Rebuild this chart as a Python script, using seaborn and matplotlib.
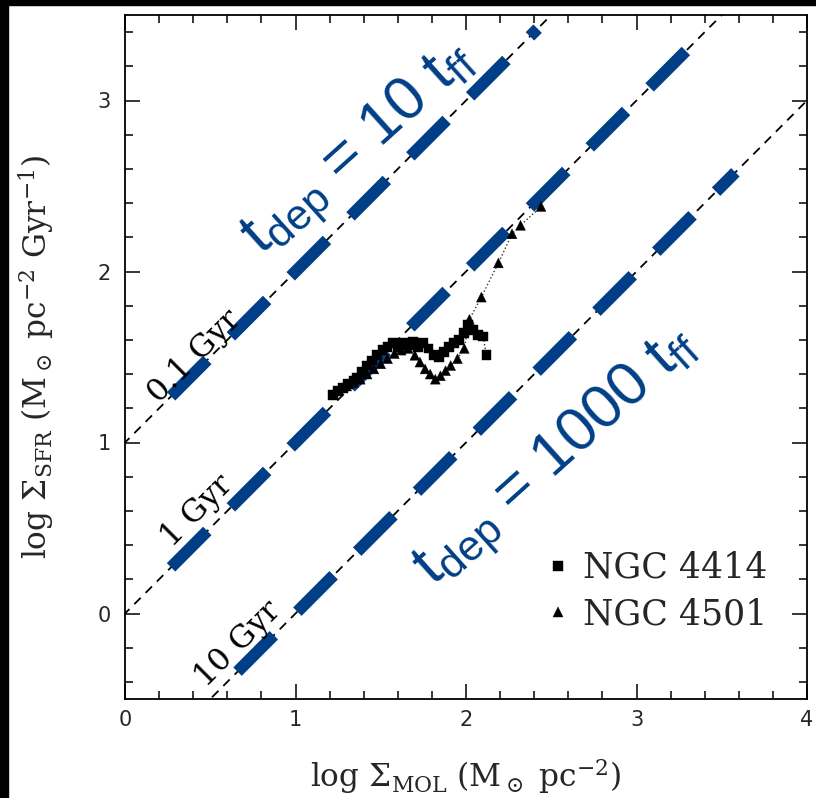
import numpy as np
import pandas as pd
import matplotlib
matplotlib.use('Agg')
import matplotlib.pyplot as plt
import seaborn as sns
from matplotlib.patches import Rectangle
from matplotlib.ticker import MultipleLocator

sns.set_theme(style='ticks')
plt.rcParams['font.family'] = ['DejaVu Sans']
plt.rcParams['mathtext.fontset'] = 'custom'
plt.rcParams['mathtext.rm'] = 'Liberation Sans'
plt.rcParams['mathtext.it'] = 'Liberation Sans'
plt.rcParams['mathtext.sf'] = 'Liberation Sans'
plt.rcParams['lines.scale_dashes'] = False

# ---------------- data ----------------
x_4414 = [1.22, 1.25, 1.28, 1.31, 1.34, 1.36, 1.39, 1.42, 1.45, 1.48, 1.51, 1.54, 1.57,
          1.60, 1.63, 1.66, 1.69, 1.72, 1.75, 1.78, 1.81, 1.84, 1.87, 1.90, 1.93, 1.96,
          1.99, 2.01, 2.04, 2.07, 2.10, 2.12]
y_4414 = [1.28, 1.30, 1.32, 1.34, 1.36, 1.38, 1.41, 1.45, 1.48, 1.51, 1.54, 1.56, 1.58,
          1.56, 1.58, 1.57, 1.59, 1.56, 1.58, 1.55, 1.51, 1.50, 1.53, 1.56, 1.58, 1.60,
          1.64, 1.69, 1.66, 1.63, 1.62, 1.51]
x_4501 = [1.30, 1.34, 1.38, 1.42, 1.46, 1.50, 1.54, 1.58, 1.62, 1.66, 1.70, 1.73, 1.76,
          1.79, 1.82, 1.85, 1.88, 1.91, 1.95, 1.99, 2.02, 2.09, 2.19, 2.27, 2.32, 2.44]
y_4501 = [1.33, 1.35, 1.37, 1.40, 1.43, 1.46, 1.49, 1.52, 1.54, 1.55, 1.51, 1.47, 1.43,
          1.40, 1.37, 1.39, 1.42, 1.45, 1.49, 1.55, 1.72, 1.85, 2.05, 2.22, 2.27, 2.38]
galaxies = ['NGC 4414', 'NGC 4501']

t_dep_gyr = [0.1, 1.0, 10.0]
t_dep_labels = ['0.1 Gyr', '1 Gyr', '10 Gyr']
label_x = [0.405, 0.42, 0.66]
label_y = [1.50, 0.60, -0.18]

blue_x_start = [0.27, 0.27, 0.66]
blue_x_end = [2.42, 3.32, 3.58]
blue_texts = [r't$_{\mathrm{dep}}$ = 10 t$_{\mathrm{ff}}$', r't$_{\mathrm{dep}}$ = 1000 t$_{\mathrm{ff}}$']
blue_text_x = [1.38, 2.54]
blue_text_y = [2.71, 0.91]

xticks = [0, 1, 2, 3, 4]
yticks = [0, 1, 2, 3]

BLUE = '#003F87'
SERIF = 'DejaVu Serif'

df = pd.concat([
    pd.DataFrame({'x': x_4414, 'y': y_4414, 'galaxy': galaxies[0]}),
    pd.DataFrame({'x': x_4501, 'y': y_4501, 'galaxy': galaxies[1]}),
], ignore_index=True)

fig = plt.figure(figsize=(8.16, 7.98), dpi=100)
ax = fig.add_axes([125/816, 1 - 699/798, (807-125)/816, (699-15)/798])

# thin black dashed depletion-time lines
xx = np.array([-1.0, 5.0])
for t in t_dep_gyr:
    ax.plot(xx, xx - np.log10(t), color='black', lw=1.3, dashes=(6.5, 5), zorder=2)

# thick blue dashed overlays
for t, xs, xe in zip(t_dep_gyr, blue_x_start, blue_x_end):
    bx = np.array([xs, xe])
    ax.plot(bx, bx - np.log10(t), color=BLUE, lw=8.6, dashes=(37, 24),
            solid_capstyle='butt', dash_capstyle='butt', zorder=3)

# data
for g, d in df.groupby('galaxy'):
    sns.lineplot(data=d, x='x', y='y', sort=False, ax=ax, color='#333333',
                 lw=1.0, linestyle=':', legend=False, zorder=4)
sns.scatterplot(data=df, x='x', y='y', style='galaxy', markers={galaxies[0]: 's', galaxies[1]: '^'},
                color='black', s=50, edgecolor='black', linewidth=0.3, ax=ax, zorder=5)

# line labels
for lab, lx, ly in zip(t_dep_labels, label_x, label_y):
    ax.text(lx, ly, lab, rotation=45, ha='center', va='center', rotation_mode='anchor',
            family=SERIF, fontsize=22.5, color='black', zorder=6)

for s, tx, ty in zip(blue_texts, blue_text_x, blue_text_y):
    ax.text(tx, ty, s, rotation=42, ha='center', va='center', rotation_mode='anchor',
            family='Liberation Sans', fontsize=44, color=BLUE, zorder=6)

ax.set_xlim(0, 4)
ax.set_ylim(-0.5, 3.5)
ax.set_xticks(xticks)
ax.set_yticks(yticks)
ax.xaxis.set_minor_locator(MultipleLocator(0.2))
ax.yaxis.set_minor_locator(MultipleLocator(0.2))
ax.tick_params(which='both', direction='in', top=True, right=True, color='black', width=1.1)
ax.tick_params(which='major', length=11)
ax.tick_params(which='minor', length=6)
ax.tick_params(axis='x', which='major', labelsize=15, pad=8)
ax.tick_params(axis='y', which='major', labelsize=15, pad=10)
for sp in ax.spines.values():
    sp.set_color('black')
    sp.set_linewidth(1.3)
    sp.set_visible(True)

ax.set_xlabel(r'log $\Sigma_{\rm MOL}$ (M$_\odot$ pc$^{-2}$)', family=SERIF,
              fontsize=22.5, math_fontfamily='dejavuserif')
ax.set_ylabel(r'log $\Sigma_{\rm SFR}$ (M$_\odot$ pc$^{-2}$ Gyr$^{-1}$)', family=SERIF,
              fontsize=22.5, math_fontfamily='dejavuserif')
ax.xaxis.set_label_coords(0.5, -0.085)
ax.yaxis.set_label_coords(-0.10, 0.5)

sns.move_legend(ax, loc='center left', bbox_to_anchor=(0.619, 0.158), frameon=False, title=None,
                prop={'family': SERIF, 'size': 25}, handlelength=0.6, handletextpad=0.43,
                labelspacing=0.35, borderpad=0, borderaxespad=0, markerscale=1.0)

# black frame strips of the screenshot
fig.patches.append(Rectangle((0, 0), 8/816, 1, transform=fig.transFigure, color='black', zorder=10))
fig.patches.append(Rectangle((0, 1 - 5/798), 1, 5/798, transform=fig.transFigure, color='black', zorder=10))

fig.savefig('out.png', dpi=100)
